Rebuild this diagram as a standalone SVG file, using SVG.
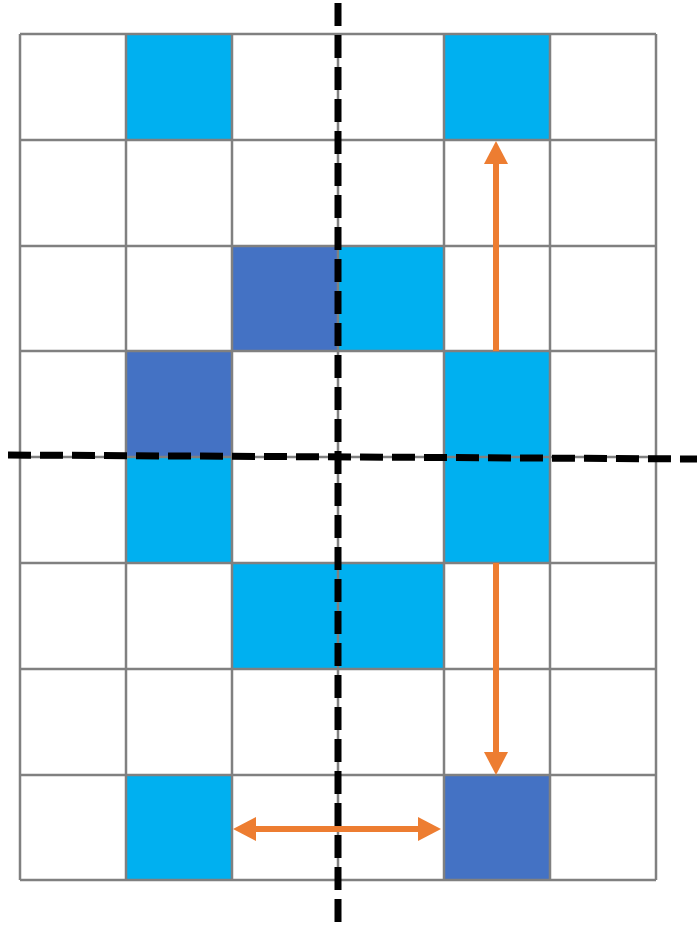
<svg xmlns="http://www.w3.org/2000/svg" width="697" height="930" viewBox="0 0 697 930">
<style>
.lb{fill:#00B0F0}
.db{fill:#4472C4}
.grid{stroke:#808080;stroke-width:2.5;fill:none}
.axis{stroke:#000;stroke-width:7;stroke-dasharray:23 9;fill:none}
.arr{stroke:#ED7D31;stroke-width:6;fill:none;marker-end:url(#head)}
</style>
<defs>
<marker id="head" markerUnits="userSpaceOnUse" markerWidth="24" markerHeight="24" refX="0" refY="12" orient="auto-start-reverse" viewBox="0 0 24 24">
<path d="M0,0 L23,12 L0,24 Z" fill="#ED7D31"/>
</marker>
</defs>
<rect width="697" height="930" fill="#fff"/>
<g id="cells">
<rect id="c0_1" class="lb" x="126" y="34" width="106" height="106"/>
<rect id="c0_4" class="lb" x="444" y="34" width="106" height="106"/>
<rect id="c2_2" class="db" x="232" y="246" width="106" height="105"/>
<rect id="c2_3" class="lb" x="338" y="246" width="106" height="105"/>
<rect id="c3_1" class="db" x="126" y="351" width="106" height="106"/>
<rect id="c3_4" class="lb" x="444" y="351" width="106" height="106"/>
<rect id="c4_1" class="lb" x="126" y="457" width="106" height="106"/>
<rect id="c4_4" class="lb" x="444" y="457" width="106" height="106"/>
<rect id="c5_2" class="lb" x="232" y="563" width="106" height="106"/>
<rect id="c5_3" class="lb" x="338" y="563" width="106" height="106"/>
<rect id="c7_1" class="lb" x="126" y="775" width="106" height="105"/>
<rect id="c7_4" class="db" x="444" y="775" width="106" height="105"/>
</g>
<g id="grid" class="grid">
<path d="M20,34V880M126,34V880M232,34V880M338,34V880M444,34V880M550,34V880M656,34V880"/>
<path d="M20,34H656M20,140H656M20,246H656M20,351H656M20,457H656M20,563H656M20,669H656M20,775H656M20,880H656"/>
</g>
<g id="connectors">
<line class="axis" x1="338" y1="3" x2="338" y2="922"/>
<line class="axis" x1="8" y1="455" x2="697" y2="459"/>
<line class="arr" x1="496" y1="351" x2="496" y2="164"/>
<line class="arr" x1="496" y1="563" x2="496" y2="752"/>
<line class="arr" x1="256" y1="829" x2="418" y2="829" style="marker-start:url(#head)"/>
</g>
</svg>
